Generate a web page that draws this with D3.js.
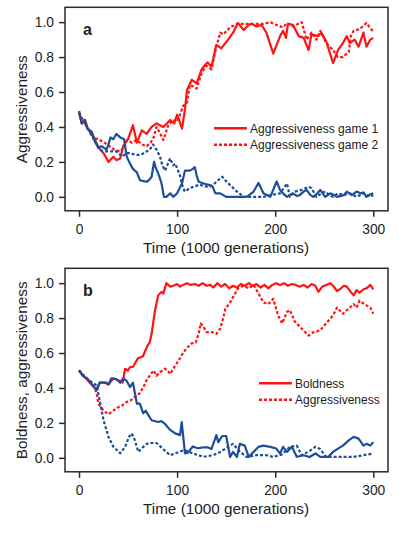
<!DOCTYPE html>
<html>
<head>
<meta charset="utf-8">
<script src="https://cdn.jsdelivr.net/npm/d3@7"></script>
<style>
  body { margin: 0; background: #fff; }
  text { font-family: "Liberation Sans", Arial, sans-serif; fill: #222; }
</style>
</head>
<body>
<div id="chart"></div>
<script>
// ---- data (time in 1000 generations, value) ----
var xTicks = [0, 100, 200, 300];
var yTicks = [0.0, 0.2, 0.4, 0.6, 0.8, 1.0];

// panel a
var aGame1Red = [[0,0.48],[3,0.42],[6,0.44],[9,0.39],[13,0.37],[16,0.33],[20,0.28],[25,0.25],[30,0.20],[35,0.23],[38,0.21],[42,0.22],[45,0.29],[50,0.33],[55,0.41],[59,0.31],[64,0.38],[69,0.36],[74,0.40],[79,0.42],[86,0.40],[93,0.44],[97,0.42],[100,0.47],[105,0.39],[108,0.50],[110,0.61],[115,0.67],[120,0.65],[125,0.73],[131,0.77],[135,0.745],[140,0.87],[145,0.85],[152,0.90],[157,0.94],[162,0.995],[168,0.955],[173,0.985],[176,0.99],[181,0.975],[186,0.985],[191,0.94],[198,0.82],[205,0.92],[208,0.95],[211,0.91],[213,0.99],[218,0.985],[224,0.92],[229,0.91],[234,0.84],[237,0.93],[244,0.92],[247,0.94],[252,0.89],[259,0.765],[264,0.84],[269,0.88],[273,0.92],[276,0.88],[281,0.90],[285,0.86],[290,0.94],[293,0.86],[297,0.90],[300,0.91]];
var aGame2Red = [[0,0.48],[5,0.43],[10,0.38],[15,0.34],[21,0.325],[26,0.31],[31,0.29],[36,0.27],[42,0.26],[45,0.28],[49,0.325],[54,0.31],[59,0.325],[64,0.30],[69,0.29],[73,0.31],[76,0.34],[79,0.40],[83,0.36],[86,0.325],[91,0.41],[96,0.44],[100,0.43],[103,0.47],[106,0.52],[110,0.54],[113,0.64],[117,0.63],[120,0.62],[125,0.71],[130,0.75],[135,0.73],[140,0.86],[144,0.94],[147,0.93],[154,0.97],[161,0.99],[168,0.99],[178,0.99],[188,0.99],[195,1.0],[201,0.985],[208,0.97],[212,0.995],[218,0.975],[227,1.0],[232,0.90],[237,0.94],[242,0.90],[246,0.95],[252,0.88],[259,0.84],[264,0.80],[269,0.80],[275,0.83],[277,0.92],[280,0.95],[286,0.96],[293,0.995],[297,0.965],[300,0.946]];
var aGame1Blue = [[0,0.49],[2.7,0.42],[6,0.44],[8.5,0.39],[13,0.37],[15,0.33],[19.7,0.28],[23,0.29],[28,0.27],[30,0.30],[32,0.34],[35,0.33],[38,0.36],[42,0.34],[46,0.33],[48.6,0.23],[52,0.19],[55,0.16],[59,0.14],[62,0.095],[66,0.09],[69,0.086],[72,0.10],[74,0.115],[76.5,0.20],[78,0.17],[81,0.13],[84,0.08],[86.6,0.0],[89,0.0],[91,0.01],[93,0.02],[96,0.0],[100,0.02],[105,0.077],[108,0.15],[113,0.15],[116,0.16],[118,0.17],[120,0.12],[122,0.086],[127,0.076],[133,0.067],[136,0.06],[139,0.02],[144,0.02],[150,0.0],[164,0.0],[171,0.0],[178,0.03],[183,0.08],[188,0.02],[195,0.0],[201.5,0.088],[205,0.038],[208,0.02],[212,0.0],[218,0.02],[222,0.005],[225,0.01],[229,0.03],[232,0.04],[236,0.01],[239,0.0],[243,0.02],[246,0.04],[251,0.0],[256,0.02],[260,0.01],[263,0.0],[270,0.01],[273,0.03],[278,0.01],[283,0.03],[287,0.02],[290,0.025],[293,0.0],[297,0.015],[300,0.02]];
var aGame2Blue = [[0,0.49],[3,0.43],[6,0.42],[10,0.38],[14,0.34],[18,0.30],[21,0.28],[24,0.26],[30,0.26],[38,0.26],[44,0.23],[48,0.25],[52,0.25],[58,0.24],[63,0.24],[69,0.26],[72,0.27],[75.5,0.30],[79,0.27],[82.6,0.23],[85,0.18],[87.7,0.15],[90,0.18],[92.8,0.22],[96,0.18],[98,0.19],[101,0.15],[103,0.12],[106,0.05],[108,0.03],[113,0.05],[118,0.06],[123,0.07],[128,0.06],[133,0.057],[137,0.07],[140,0.086],[146,0.115],[150,0.09],[154,0.067],[161,0.03],[168,0.0],[178,0.0],[188,0.0],[196,0.01],[205,0.02],[212,0.076],[215,0.0],[220,0.03],[227,0.04],[234,0.057],[237,0.05],[242,0.0],[247,0.02],[251,0.03],[255,0.01],[259,0.0],[264,0.02],[270,0.01],[276,0.02],[283,0.0],[290,0.02],[297,0.0],[300,0.01]];

// panel b
var bBoldRed = [[0,0.50],[4,0.47],[8,0.45],[11,0.43],[16,0.40],[18,0.39],[21,0.43],[26,0.43],[30,0.42],[35,0.455],[42,0.44],[44.5,0.43],[47,0.51],[50,0.50],[52,0.52],[55,0.52],[57,0.54],[60,0.57],[65,0.58],[70,0.645],[72,0.66],[74,0.71],[77.5,0.845],[80.7,0.93],[84,0.95],[86,0.94],[89,1.0],[93,0.98],[96,0.985],[100,0.995],[103,0.98],[106,0.99],[110,1.0],[114,0.99],[118,0.995],[122,0.985],[126,1.0],[130,0.985],[134,0.99],[137,0.975],[141,1.0],[145,0.98],[149,0.995],[153,0.97],[157,0.985],[161,0.975],[165,0.995],[169,0.985],[173,1.0],[177,0.985],[181,0.995],[185,0.975],[189,0.99],[193,0.97],[197,0.99],[201,1.0],[205,0.99],[209,1.0],[213,0.985],[217,0.995],[221,0.99],[225,0.98],[229,0.99],[233,0.975],[237,0.995],[241,0.985],[244,0.95],[248,0.98],[252,0.99],[256,1.0],[259,0.985],[263,0.955],[266,0.965],[270,0.985],[273,0.98],[277,0.95],[280,0.93],[283,0.96],[286,0.945],[290,0.965],[293,0.97],[297,0.99],[300,0.965]];
var bAggrRed = [[0,0.50],[5,0.47],[10,0.44],[15,0.41],[18,0.37],[19.7,0.31],[25,0.27],[30,0.25],[35,0.27],[40,0.29],[44,0.30],[48.6,0.32],[53,0.33],[57,0.35],[62,0.37],[66,0.41],[69,0.445],[72,0.47],[76,0.50],[79,0.47],[82.6,0.49],[87.7,0.51],[90,0.50],[93,0.48],[96,0.51],[99.6,0.54],[103,0.57],[106,0.60],[110,0.63],[115,0.655],[119,0.66],[122,0.71],[124,0.77],[127,0.75],[130,0.72],[135,0.72],[140,0.71],[144,0.74],[147,0.80],[149,0.85],[154,0.89],[157,0.92],[162,0.97],[168,0.985],[173,0.97],[178,0.99],[183,0.94],[188,0.89],[193,0.88],[198,0.91],[203,0.815],[207,0.77],[212,0.835],[215,0.845],[220,0.78],[227,0.74],[234,0.70],[239,0.72],[246,0.73],[252,0.77],[259,0.815],[263,0.86],[269,0.825],[275,0.855],[280,0.88],[283,0.86],[286,0.90],[291,0.88],[297,0.86],[300,0.825]];
var bBoldBlue = [[0,0.50],[4,0.47],[8,0.455],[12,0.43],[16,0.40],[18,0.39],[21,0.43],[28,0.43],[30,0.42],[33,0.455],[38,0.45],[42,0.43],[45,0.455],[48.6,0.44],[52,0.405],[55,0.43],[59,0.31],[62,0.31],[65.5,0.255],[68,0.27],[70.6,0.245],[74,0.215],[80.7,0.205],[84,0.21],[87.5,0.195],[92.8,0.16],[98,0.14],[103,0.13],[104.7,0.205],[108,0.025],[111,0.03],[116,0.065],[121,0.055],[126.5,0.06],[131,0.06],[135,0.05],[140,0.13],[142,0.09],[146,0.125],[150,0.125],[154,0.005],[157,0.034],[161,0.005],[164,0.08],[169,0.07],[173,0.005],[178,0.034],[183,0.063],[188,0.07],[195,0.063],[201,0.053],[205,0.025],[208,0.063],[212,0.034],[217,0.063],[222,0.006],[229,0.015],[235,0.005],[241,0.025],[246,0.005],[254,0.005],[259,0.034],[264,0.053],[269,0.07],[275,0.10],[280,0.12],[285,0.11],[290,0.07],[293,0.08],[297,0.07],[300,0.09]];
var bAggrBlue = [[0,0.50],[5,0.47],[11,0.44],[18,0.415],[21,0.33],[25,0.215],[30,0.12],[35,0.063],[42,0.026],[47,0.063],[51,0.12],[53.7,0.14],[57,0.10],[60.5,0.034],[65,0.06],[69,0.08],[74,0.085],[79,0.085],[84,0.06],[87.7,0.04],[93,0.015],[98,0.025],[104.7,0.04],[108,0.044],[116,0.025],[127,0.006],[137,0.015],[144,0.034],[152,0.063],[157,0.08],[164,0.035],[171,0.005],[181,0.015],[191,0.015],[198,0.005],[207,0.02],[215,0.063],[222,0.07],[227,0.015],[234,0.035],[241,0.063],[246,0.05],[252,0.005],[259,0.005],[269,0.005],[280,0.005],[290,0.015],[300,0.025]];

var red = "#ff1414", blue = "#1d4e9b", frame = "#2b2b2b";
var dash = "3,2";

var svg = d3.select("#chart").append("svg")
    .attr("width", 399)
    .attr("height", 534);

function drawPanel(top, letter, ylabel, series, legend) {
    // box spans x 65..388, y top..top+203
    var x = d3.scaleLinear().domain([-14.3, 315]).range([65, 388]);
    var y = d3.scaleLinear().domain([-0.08, 1.085]).range([top + 203.5, top]);

    var g = svg.append("g");

    var line = d3.line()
        .x(function (d) { return x(d[0]); })
        .y(function (d) { return y(d[1]); });

    series.forEach(function (s) {
        g.append("path")
            .datum(s.data)
            .attr("fill", "none")
            .attr("stroke", s.color)
            .attr("stroke-width", 2.2)
            .attr("stroke-linejoin", "round")
            .attr("stroke-dasharray", s.dashed ? dash : null)
            .attr("d", line);
    });

    // frame
    g.append("rect")
        .attr("x", 65).attr("y", top)
        .attr("width", 323).attr("height", 203.5)
        .attr("fill", "none")
        .attr("stroke", frame)
        .attr("stroke-width", 1.5);

    // x axis
    var xa = g.append("g")
        .attr("transform", "translate(0," + (top + 203.5) + ")")
        .call(d3.axisBottom(x).tickValues(xTicks).tickSize(6).tickPadding(7));
    xa.select(".domain").remove();

    // y axis
    var ya = g.append("g")
        .attr("transform", "translate(65,0)")
        .call(d3.axisLeft(y).tickValues(yTicks).tickSize(6).tickPadding(5)
            .tickFormat(d3.format(".1f")));
    ya.select(".domain").remove();

    g.selectAll(".tick line").attr("stroke", frame).attr("stroke-width", 1.5);
    g.selectAll(".tick text")
        .style("font-family", "'Liberation Sans', Arial, sans-serif")
        .style("font-size", "13.8px")
        .attr("fill", "#222");

    g.append("text")
        .attr("x", 226).attr("y", top + 246)
        .attr("text-anchor", "middle")
        .style("font-size", "15.3px")
        .text("Time (1000 generations)");

    g.append("text")
        .attr("transform", "translate(27," + (top + 102) + ") rotate(-90)")
        .attr("text-anchor", "middle")
        .style("font-size", "15.3px")
        .text(ylabel);

    g.append("text")
        .attr("x", 83).attr("y", top + 28)
        .style("font-size", "16px")
        .style("font-weight", "bold")
        .text(letter);

    // legend
    legend.items.forEach(function (it, i) {
        var ly = top + legend.y + i * 16.5;
        g.append("line")
            .attr("x1", legend.x).attr("x2", legend.x + 33)
            .attr("y1", ly).attr("y2", ly)
            .attr("stroke", red)
            .attr("stroke-width", 2.6)
            .attr("stroke-dasharray", it.dashed ? dash : null);
        g.append("text")
            .attr("x", legend.x + 36).attr("y", ly + 4.3)
            .style("font-size", "12px")
            .text(it.label);
    });
}

drawPanel(7.3, "a", "Aggressiveness",
    [{data: aGame2Red, color: red, dashed: true},
     {data: aGame1Red, color: red, dashed: false},
     {data: aGame2Blue, color: blue, dashed: true},
     {data: aGame1Blue, color: blue, dashed: false}],
    {x: 214, y: 121, items: [{label: "Aggressiveness game 1", dashed: false},
                             {label: "Aggressiveness game 2", dashed: true}]});

drawPanel(268.3, "b", "Boldness, aggressiveness",
    [{data: bAggrRed, color: red, dashed: true},
     {data: bBoldRed, color: red, dashed: false},
     {data: bAggrBlue, color: blue, dashed: true},
     {data: bBoldBlue, color: blue, dashed: false}],
    {x: 259, y: 115, items: [{label: "Boldness", dashed: false},
                             {label: "Aggressiveness", dashed: true}]});
</script>
</body>
</html>
